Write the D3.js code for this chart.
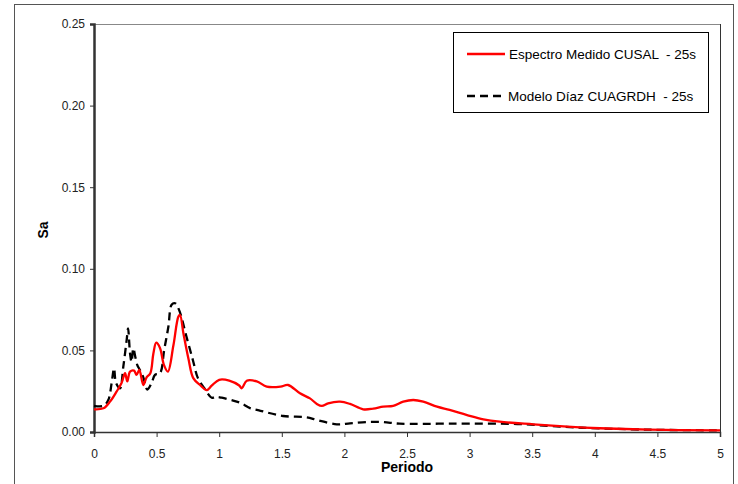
<!DOCTYPE html>
<html><head><meta charset="utf-8">
<script src="https://cdn.jsdelivr.net/npm/d3@7"></script>
<style>body{margin:0;background:#fff}text{font-family:Arial,"Liberation Sans",sans-serif}</style>
</head><body><svg id="c" width="738" height="484"></svg>
<script>
const redT = [0,0.075,0.128,0.18,0.22,0.248,0.266,0.288,0.32,0.34,0.362,0.394,0.42,0.45,0.474,0.497,0.527,0.559,0.59,0.634,0.674,0.687,0.714,0.754,0.793,0.847,0.90,0.94,1.0,1.08,1.16,1.18,1.22,1.3,1.38,1.49,1.55,1.645,1.725,1.78,1.82,1.87,1.965,2.045,2.15,2.23,2.31,2.39,2.47,2.55,2.63,2.74,2.84,2.98,3.11,3.24,3.51,3.78,4.04,4.44,5.0];
const redSa = [0.0139,0.0145,0.0186,0.0247,0.030,0.036,0.031,0.037,0.0376,0.035,0.038,0.0288,0.0335,0.036,0.048,0.0547,0.0515,0.041,0.037,0.053,0.0707,0.0717,0.0605,0.045,0.033,0.0288,0.0257,0.0284,0.032,0.0315,0.0285,0.0268,0.0314,0.031,0.0278,0.0278,0.0288,0.0237,0.0206,0.0172,0.016,0.0176,0.0186,0.0172,0.0139,0.0143,0.0155,0.016,0.0186,0.0196,0.0186,0.0155,0.0135,0.0104,0.0078,0.0063,0.0047,0.0033,0.0023,0.0014,0.001];
const blkT = [0,0.075,0.114,0.141,0.16,0.176,0.208,0.234,0.261,0.272,0.288,0.30,0.314,0.33,0.346,0.367,0.394,0.426,0.46,0.487,0.527,0.56,0.594,0.62,0.647,0.68,0.74,0.79,0.83,0.88,0.94,0.97,1.02,1.1,1.17,1.25,1.33,1.51,1.70,1.78,1.94,2.045,2.18,2.31,2.44,2.84,3.38,3.64,3.9,4.44,5.0];
const blkSa = [0.016,0.016,0.0196,0.030,0.039,0.030,0.0268,0.040,0.0564,0.0635,0.048,0.043,0.0513,0.046,0.041,0.038,0.0335,0.026,0.030,0.035,0.036,0.050,0.0645,0.078,0.0789,0.0747,0.058,0.044,0.033,0.027,0.021,0.0215,0.021,0.0195,0.0178,0.0145,0.013,0.0098,0.009,0.0074,0.0047,0.0053,0.0061,0.0061,0.0051,0.0051,0.0049,0.0037,0.0026,0.0014,0.001];
const xTicks = [0,0.5,1,1.5,2,2.5,3,3.5,4,4.5,5];
const xTickLabels = ["0","0.5","1","1.5","2","2.5","3","3.5","4","4.5","5"];
const yTicks = [0,0.05,0.10,0.15,0.20,0.25];
const yTickLabels = ["0.00","0.05","0.10","0.15","0.20","0.25"];
const seriesNames = ["Espectro Medido CUSAL  - 25s","Modelo Díaz CUAGRDH  - 25s"];

const svg = d3.select("#c");
const L=94,R=720,T=24,B=432;
const x = d3.scaleLinear().domain([0,5]).range([L,R]);
const y = d3.scaleLinear().domain([0,0.25]).range([B,T]);

// outer frame
svg.append("rect").attr("x",14.5).attr("y",4.5).attr("width",719).attr("height",490)
  .attr("fill","none").attr("stroke","#555").attr("stroke-width",1);

// plot border
svg.append("line").attr("x1",L).attr("x2",R).attr("y1",T+0.5).attr("y2",T+0.5).attr("stroke","#888");
svg.append("line").attr("x1",R+0.5).attr("x2",R+0.5).attr("y1",T).attr("y2",B).attr("stroke","#333");

// axes
const yAxis = d3.axisLeft(y).tickValues(yTicks).tickFormat((d,i)=>yTickLabels[i]).tickSize(4).tickPadding(5);
const gy = svg.append("g").attr("transform",`translate(${L},0)`).call(yAxis);
gy.select(".domain").attr("stroke","#333").attr("stroke-width",2.5);
gy.selectAll(".tick line").attr("stroke","#333");
gy.selectAll("text").attr("font-size",12).attr("fill","#222");

const xAxis = d3.axisBottom(x).tickValues(xTicks).tickFormat((d,i)=>xTickLabels[i]).tickSize(5).tickPadding(12);
const gx = svg.append("g").attr("transform",`translate(0,${B})`).call(xAxis);
gx.select(".domain").attr("stroke","#333").attr("stroke-width",1.5);
gx.selectAll(".tick line").attr("stroke","#333");
gx.selectAll("text").attr("font-size",12).attr("fill","#222");

// axis titles
svg.append("text").attr("x",(L+R)/2).attr("y",472).attr("text-anchor","middle")
  .attr("font-size",14).attr("font-weight","bold").text("Periodo");
svg.append("text").attr("transform","translate(48,230) rotate(-90)").attr("text-anchor","middle")
  .attr("font-size",14).attr("font-weight","bold").text("Sa");

// lines
const line = d3.line().x(d=>x(d[0])).y(d=>y(d[1])).curve(d3.curveCatmullRom.alpha(0.5));
const blk = blkT.map((t,i)=>[t,blkSa[i]]);
const red = redT.map((t,i)=>[t,redSa[i]]);
svg.append("path").attr("d",line(blk)).attr("fill","none").attr("stroke","#000")
  .attr("stroke-width",2.3).attr("stroke-dasharray","8,5");
svg.append("path").attr("d",line(red)).attr("fill","none").attr("stroke","#ff0000")
  .attr("stroke-width",2.3);

// legend
const lg = svg.append("g");
lg.append("rect").attr("x",453.5).attr("y",32.5).attr("width",255).attr("height",80)
  .attr("fill","#fff").attr("stroke","#000").attr("stroke-width",1);
lg.append("line").attr("x1",467).attr("x2",505).attr("y1",54).attr("y2",54).attr("stroke","#ff0000").attr("stroke-width",2.3);
lg.append("line").attr("x1",467).attr("x2",505).attr("y1",96).attr("y2",96).attr("stroke","#000").attr("stroke-width",2.3).attr("stroke-dasharray","8,5");
lg.append("text").attr("x",509).attr("y",59).attr("font-size",13.5).style("white-space","pre").text(seriesNames[0]);
lg.append("text").attr("x",508).attr("y",101).attr("font-size",13.5).style("white-space","pre").text(seriesNames[1]);
</script></body></html>
